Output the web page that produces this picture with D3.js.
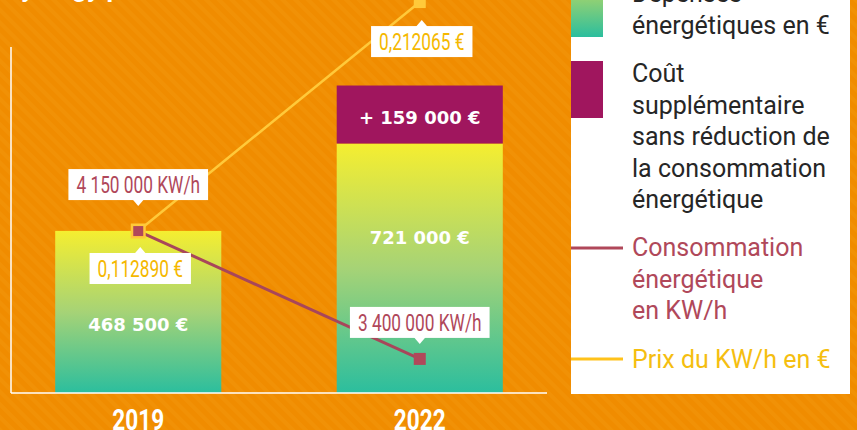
<!DOCTYPE html>
<html>
<head>
<meta charset="utf-8">
<script src="https://cdn.jsdelivr.net/npm/d3@7"></script>
<style>
  body { margin: 0; background: #F08C00; }
  svg { display: block; }
</style>
</head>
<body>
<div id="chart"></div>
<script>
const years = ["2019", "2022"];
const depenses = [468500, 721000];
const surcout = [0, 159000];
const consommation = [4150000, 3400000];
const prix = [0.112890, 0.212065];

const depLabels = ["468 500 €", "721 000 €"];
const surLabels = ["", "+ 159 000 €"];
const consoLabels = ["4 150 000 KW/h", "3 400 000 KW/h"];
const prixLabels = ["0,112890 €", "0,212065 €"];

const W = 857, H = 430;
const plot = {left: 11, right: 547, top: 47, bottom: 393};

const svg = d3.select("#chart").append("svg")
    .attr("width", W)
    .attr("height", H);

const defs = svg.append("defs");

// fond rayé
const pat = defs.append("pattern")
    .attr("id", "stripes")
    .attr("patternUnits", "userSpaceOnUse")
    .attr("width", 9).attr("height", 9)
    .attr("patternTransform", "rotate(-45)");
pat.append("rect").attr("width", 9).attr("height", 9).attr("fill", "#F08C00");
pat.append("rect").attr("width", 4).attr("height", 9).attr("fill", "#F19106");

const grad = defs.append("linearGradient")
    .attr("id", "barGrad")
    .attr("x1", 0).attr("y1", 0).attr("x2", 0).attr("y2", 1);
grad.append("stop").attr("offset", "0%").attr("stop-color", "#F5EE30");
grad.append("stop").attr("offset", "50%").attr("stop-color", "#A6D376");
grad.append("stop").attr("offset", "100%").attr("stop-color", "#2BBE9E");

const legGrad = defs.append("linearGradient")
    .attr("id", "legGrad")
    .attr("x1", 0).attr("y1", 0).attr("x2", 0).attr("y2", 1);
legGrad.append("stop").attr("offset", "0%").attr("stop-color", "#C4DA5E");
legGrad.append("stop").attr("offset", "100%").attr("stop-color", "#2BBE9E");

svg.append("rect").attr("width", W).attr("height", H).attr("fill", "url(#stripes)");

// titre (coupé en haut)
svg.append("text")
    .attr("x", 5).attr("y", -3)
    .attr("fill", "#fff")
    .attr("font-family", "Roboto, sans-serif")
    .attr("font-weight", 700)
    .attr("font-size", 26)
    .text("Synergy plan");

// scales
const x = d3.scaleBand()
    .domain(years)
    .range([plot.left, plot.right])
    .paddingInner(0.41)
    .paddingOuter(0.157);

const yBar = d3.scaleLinear().domain([0, 1000000]).range([plot.bottom, plot.top]);
const yConso = d3.scaleLinear().domain([3200000, 5230000]).range([plot.bottom, plot.top]);
const yPrix = d3.scaleLinear().domain([0.0427, 0.1926]).range([plot.bottom, plot.top]);

const cx = d => x(d) + x.bandwidth() / 2;

// barres
const g = svg.append("g");
g.selectAll(".dep").data(years).join("rect")
    .attr("x", d => x(d))
    .attr("y", (d, i) => yBar(depenses[i]))
    .attr("width", x.bandwidth())
    .attr("height", (d, i) => yBar(0) - yBar(depenses[i]))
    .attr("fill", "url(#barGrad)");

g.selectAll(".sur").data(years.filter((d, i) => surcout[i] > 0)).join("rect")
    .attr("x", d => x(d))
    .attr("y", d => { const i = years.indexOf(d); return yBar(depenses[i] + surcout[i]) - 3; })
    .attr("width", x.bandwidth())
    .attr("height", d => { const i = years.indexOf(d); return yBar(depenses[i]) - yBar(depenses[i] + surcout[i]) + 3; })
    .attr("fill", "#A0165E");

// axes (traits blancs)
svg.append("line")
    .attr("x1", plot.left).attr("x2", plot.left)
    .attr("y1", plot.top).attr("y2", plot.bottom)
    .attr("stroke", "#fff").attr("stroke-width", 1.5);
svg.append("line")
    .attr("x1", plot.left).attr("x2", plot.right)
    .attr("y1", plot.bottom).attr("y2", plot.bottom)
    .attr("stroke", "#fff").attr("stroke-width", 1.5);

// années
svg.selectAll(".year").data(years).join("text")
    .attr("transform", d => `translate(${cx(d)},430) scale(0.78,1)`)
    .attr("text-anchor", "middle")
    .attr("fill", "#fff")
    .attr("font-family", "Roboto, sans-serif")
    .attr("font-weight", 700)
    .attr("font-size", 29)
    .text(d => d);

// valeurs des barres
svg.selectAll(".depl").data(years).join("text")
    .attr("x", cx)
    .attr("y", (d, i) => yBar(depenses[i]) + 100)
    .attr("text-anchor", "middle")
    .attr("fill", "#fff")
    .attr("font-family", "'DejaVu Sans', sans-serif")
    .attr("font-weight", 700)
    .attr("font-size", 18)
    .text((d, i) => depLabels[i]);

svg.selectAll(".surl").data(years.filter((d, i) => surcout[i] > 0)).join("text")
    .attr("x", cx)
    .attr("y", d => { const i = years.indexOf(d); return (yBar(depenses[i]) + yBar(depenses[i] + surcout[i])) / 2 + 8; })
    .attr("text-anchor", "middle")
    .attr("fill", "#fff")
    .attr("font-family", "'DejaVu Sans', sans-serif")
    .attr("font-weight", 700)
    .attr("font-size", 18)
    .text(d => surLabels[years.indexOf(d)]);

// lignes
const linePrix = d3.line().x(d => cx(d[0])).y(d => yPrix(d[1]));
const lineConso = d3.line().x(d => cx(d[0])).y(d => yConso(d[1]));

svg.append("path")
    .datum(years.map((d, i) => [d, prix[i]]))
    .attr("d", linePrix)
    .attr("fill", "none")
    .attr("stroke", "#FFC93A")
    .attr("stroke-width", 2.5);

svg.append("path")
    .datum(years.map((d, i) => [d, consommation[i]]))
    .attr("d", lineConso)
    .attr("fill", "none")
    .attr("stroke", "#A8465A")
    .attr("stroke-width", 3);

// marqueurs
svg.selectAll(".mp").data(years).join("rect")
    .attr("x", (d, i) => cx(d) - (i === 0 ? 7.5 : 6))
    .attr("y", (d, i) => yPrix(prix[i]) - (i === 0 ? 7.5 : 6))
    .attr("width", (d, i) => i === 0 ? 15 : 12)
    .attr("height", (d, i) => i === 0 ? 15 : 12)
    .attr("fill", "#FFC93A");

svg.selectAll(".mc").data(years).join("rect")
    .attr("x", (d, i) => cx(d) - (i === 0 ? 5 : 6))
    .attr("y", (d, i) => yConso(consommation[i]) - (i === 0 ? 5 : 6))
    .attr("width", (d, i) => i === 0 ? 10 : 12)
    .attr("height", (d, i) => i === 0 ? 10 : 12)
    .attr("fill", "#B0485A");

// étiquettes (bulles blanches)
const sx = 0.72;
function bubble(px, py, label, color, below, gap) {
    const bg = svg.append("g");
    const t = bg.append("text")
        .attr("text-anchor", "middle")
        .attr("fill", color)
        .attr("font-family", "Roboto, sans-serif")
        .attr("font-size", 24)
        .text(label);
    const bw = t.node().getComputedTextLength() * sx + 16;
    const bh = 31;
    const tip = below ? py + gap : py - gap;
    const top = below ? tip + 6 : tip - 6 - bh;
    bg.insert("rect", "text")
        .attr("x", px - bw / 2).attr("y", top)
        .attr("width", bw).attr("height", bh)
        .attr("fill", "#fff");
    const base = below ? tip + 6 : tip - 6;
    bg.insert("path", "text")
        .attr("d", `M${px - 6},${base + (below ? 1 : -1)}L${px},${tip}L${px + 6},${base + (below ? 1 : -1)}Z`)
        .attr("fill", "#fff");
    t.attr("transform", `translate(${px},${top + bh / 2 + 8.5}) scale(${sx},1)`);
}

years.forEach((d, i) => {
    bubble(cx(d), yConso(consommation[i]), consoLabels[i], "#B0475A", false, i === 0 ? 25 : 15);
    bubble(cx(d) + 2, yPrix(prix[i]), prixLabels[i], "#F5B800", true, i === 0 ? 16 : 18);
});

// légende
const leg = svg.append("g");
leg.append("rect")
    .attr("x", 571).attr("y", -10)
    .attr("width", 279).attr("height", 404)
    .attr("fill", "#fff");

const legFont = "Roboto, sans-serif";
function legText(lines, y0, color) {
    const t = leg.append("text")
        .attr("x", 632)
        .attr("fill", color)
        .attr("font-family", legFont)
        .attr("font-size", 25);
    lines.forEach((l, i) => t.append("tspan").attr("x", 632).attr("y", y0 + i * 31.5).text(l));
}

leg.append("rect").attr("x", 571).attr("y", -20).attr("width", 32).attr("height", 57).attr("fill", "url(#legGrad)");
legText(["Dépenses", "énergétiques en €"], 2, "#262626");

leg.append("rect").attr("x", 571).attr("y", 61).attr("width", 32).attr("height", 57).attr("fill", "#A0165E");
legText(["Coût", "supplémentaire", "sans réduction de", "la consommation", "énergétique"], 82, "#262626");

leg.append("line").attr("x1", 571).attr("x2", 623).attr("y1", 248).attr("y2", 248)
    .attr("stroke", "#B0485A").attr("stroke-width", 3);
legText(["Consommation", "énergétique", "en KW/h"], 256, "#B0485A");

leg.append("line").attr("x1", 571).attr("x2", 623).attr("y1", 359).attr("y2", 359)
    .attr("stroke", "#FFC21A").attr("stroke-width", 3);
legText(["Prix du KW/h en €"], 368, "#F5BE10");
</script>
</body>
</html>
